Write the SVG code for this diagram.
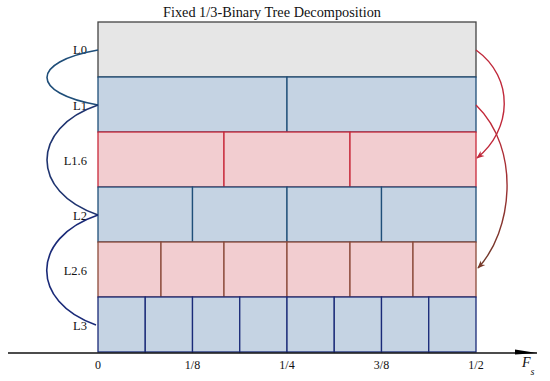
<svg xmlns="http://www.w3.org/2000/svg" width="550" height="381" viewBox="0 0 550 381">
<defs>
<style>
.t{font-family:"Liberation Serif","Times New Roman",serif;font-size:12px;fill:#111}
.lbl{text-anchor:end;font-size:12.5px}
.tick{text-anchor:middle}
.g0{fill:#e6e6e6;stroke:#444;stroke-width:1.3}
.b{fill:#c5d3e3;stroke:#1f4e79;stroke-width:1.3}
.r{fill:#f2cdd0;stroke:#c8283a;stroke-width:1.3}
.br{fill:#f2cdd0;stroke:#8b4a3a;stroke-width:1.3}
.b3{fill:#c5d3e3;stroke:#1a2a78;stroke-width:1.3}
.lc{fill:none;stroke-width:1.6}
</style>
<marker id="arR" viewBox="0 0 10 10" refX="9" refY="5" markerWidth="8" markerHeight="8" orient="auto" markerUnits="userSpaceOnUse">
<path d="M0,1 L10,5 L0,9 L3,5 Z" fill="#c0283a"/>
</marker>
<marker id="arB" viewBox="0 0 10 10" refX="9" refY="5" markerWidth="8" markerHeight="8" orient="auto" markerUnits="userSpaceOnUse">
<path d="M0,1 L10,5 L0,9 L3,5 Z" fill="#7a3a2a"/>
</marker>
<marker id="axr" viewBox="0 0 22 6" refX="22" refY="4.5" markerWidth="22" markerHeight="6" orient="auto" markerUnits="userSpaceOnUse">
<path d="M0,1 L22,4.5 L0,6 Z" fill="#000"/>
</marker>
<linearGradient id="gr" x1="0" y1="0" x2="0" y2="1">
<stop offset="0" stop-color="#c8283a"/>
<stop offset="1" stop-color="#6e3a2a"/>
</linearGradient>
</defs>

<text class="t" x="272" y="17" text-anchor="middle" style="font-size:14.3px">Fixed 1/3-Binary Tree Decomposition</text>

<g id="L0">
<rect class="g0" x="98" y="22" width="378" height="55"/>
<text class="t lbl" x="87" y="54">L0</text>
</g>
<g id="L1">
<rect class="b" x="98" y="77" width="189" height="55"/>
<rect class="b" x="287" y="77" width="189" height="55"/>
<text class="t lbl" x="87" y="110">L1</text>
</g>
<g id="L1.6">
<rect class="r" x="98" y="132" width="126" height="55"/>
<rect class="r" x="224" y="132" width="126" height="55"/>
<rect class="r" x="350" y="132" width="126" height="55"/>
<text class="t lbl" x="87" y="165">L1.6</text>
</g>
<g id="L2">
<rect class="b" x="98" y="187" width="94.5" height="55"/>
<rect class="b" x="192.5" y="187" width="94.5" height="55"/>
<rect class="b" x="287" y="187" width="94.5" height="55"/>
<rect class="b" x="381.5" y="187" width="94.5" height="55"/>
<text class="t lbl" x="87" y="220">L2</text>
</g>
<g id="L2.6">
<rect class="br" x="98" y="242" width="63" height="55"/>
<rect class="br" x="161" y="242" width="63" height="55"/>
<rect class="br" x="224" y="242" width="63" height="55"/>
<rect class="br" x="287" y="242" width="63" height="55"/>
<rect class="br" x="350" y="242" width="63" height="55"/>
<rect class="br" x="413" y="242" width="63" height="55"/>
<text class="t lbl" x="87" y="275">L2.6</text>
</g>
<g id="L3">
<rect class="b3" x="98" y="297" width="47.25" height="55"/>
<rect class="b3" x="145.25" y="297" width="47.25" height="55"/>
<rect class="b3" x="192.5" y="297" width="47.25" height="55"/>
<rect class="b3" x="239.75" y="297" width="47.25" height="55"/>
<rect class="b3" x="287" y="297" width="47.25" height="55"/>
<rect class="b3" x="334.25" y="297" width="47.25" height="55"/>
<rect class="b3" x="381.5" y="297" width="47.25" height="55"/>
<rect class="b3" x="428.75" y="297" width="47.25" height="55"/>
<text class="t lbl" x="87" y="330">L3</text>
</g>

<g id="axis">
<line x1="8" y1="353" x2="537" y2="353" stroke="#111" stroke-width="1.6" marker-end="url(#axr)"/>
<text class="t tick" x="98" y="369">0</text>
<text class="t tick" x="192.5" y="369">1/8</text>
<text class="t tick" x="287" y="369">1/4</text>
<text class="t tick" x="381.5" y="369">3/8</text>
<text class="t tick" x="476" y="369">1/2</text>
<text class="t" x="522" y="367" style="font-size:14px;font-style:italic">F<tspan dy="8" style="font-size:10px">s</tspan></text>
</g>

<g id="connectors">
<path class="lc" stroke="#1f4e79" d="M98,50 C30,62 30,93 98,105"/>
<path class="lc" stroke="#1f3470" d="M98,105 C30,128 30,192 98,215"/>
<path class="lc" stroke="#1a2a78" d="M98,215 C30,238 30,302 96,325"/>
<path fill="none" stroke="#c0283a" stroke-width="1.4" d="M476,50 C515,78 512,130 477,158" marker-end="url(#arR)"/>
<path fill="none" stroke="url(#gr)" stroke-width="1.4" d="M476,105 C522,150 512,232 478,268" marker-end="url(#arB)"/>
</g>
</svg>
